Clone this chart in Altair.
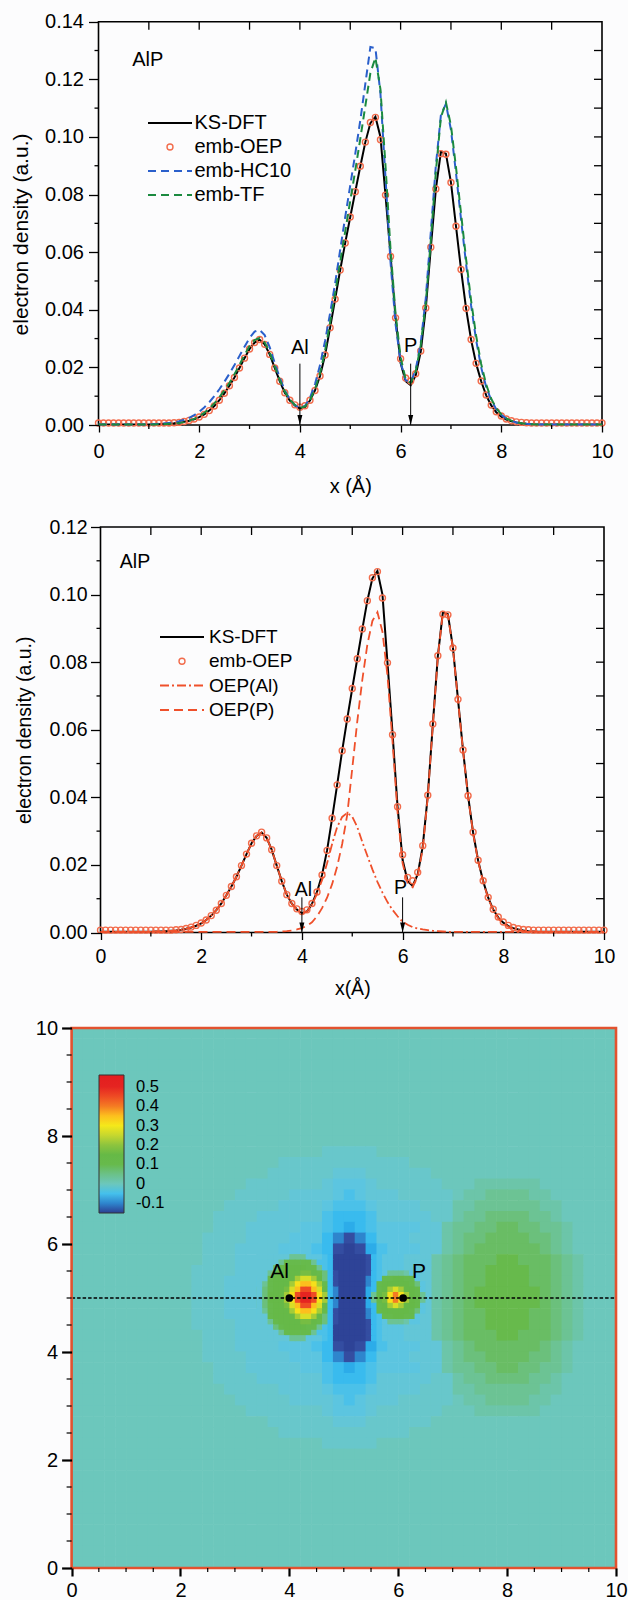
import altair as alt
import pandas as pd

FONT = "Liberation Sans"
VIEW_W, VIEW_H = 628, 1600
BG = "#fcfcfd"

# ---------------- line profiles along the Al-P axis (x in Å, density in a.u.) ----------------
X = [round(0.1 * i, 1) for i in range(101)]

KS_DFT = [
    0.0002, 0.0002, 0.0002, 0.0002, 0.0002, 0.0002, 0.0002, 0.0002, 0.0002, 0.0002,
    0.0002, 0.0003, 0.0003, 0.0004, 0.0005, 0.0006, 0.0008, 0.0011, 0.0015, 0.0020,
    0.0027, 0.0037, 0.0050, 0.0066, 0.0086, 0.0110, 0.0136, 0.0165, 0.0198, 0.0232,
    0.0264, 0.0286, 0.0296, 0.0280, 0.0245, 0.0198, 0.0152, 0.0112, 0.0085, 0.0068,
    0.0057, 0.0062, 0.0085, 0.0120, 0.0170, 0.0243, 0.0338, 0.0437, 0.0538, 0.0632,
    0.0722, 0.0810, 0.0898, 0.0982, 0.1048, 0.1070, 0.1000, 0.0798, 0.0590, 0.0372,
    0.0215, 0.0152, 0.0138, 0.0172, 0.0255, 0.0405, 0.0615, 0.0818, 0.0948, 0.0942,
    0.0842, 0.0690, 0.0540, 0.0405, 0.0296, 0.0213, 0.0152, 0.0103, 0.0068, 0.0044,
    0.0029, 0.0019, 0.0013, 0.0009, 0.0006, 0.0004, 0.0003, 0.0002, 0.0002, 0.0002,
    0.0002, 0.0002, 0.0002, 0.0002, 0.0002, 0.0002, 0.0002, 0.0002, 0.0002, 0.0002,
    0.0002,
]
EMB_OEP = [
    0.0007, 0.0007, 0.0007, 0.0007, 0.0007, 0.0007, 0.0007, 0.0007, 0.0007, 0.0007,
    0.0007, 0.0007, 0.0007, 0.0007, 0.0007, 0.0008, 0.0009, 0.0012, 0.0016, 0.0021,
    0.0028, 0.0037, 0.0050, 0.0066, 0.0086, 0.0110, 0.0136, 0.0165, 0.0198, 0.0232,
    0.0264, 0.0286, 0.0297, 0.0280, 0.0245, 0.0198, 0.0152, 0.0112, 0.0086, 0.0070,
    0.0062, 0.0067, 0.0086, 0.0120, 0.0170, 0.0243, 0.0338, 0.0437, 0.0538, 0.0632,
    0.0722, 0.0810, 0.0898, 0.0982, 0.1050, 0.1068, 0.0990, 0.0798, 0.0585, 0.0372,
    0.0230, 0.0163, 0.0153, 0.0178, 0.0257, 0.0406, 0.0617, 0.0819, 0.0942, 0.0940,
    0.0842, 0.0690, 0.0540, 0.0405, 0.0297, 0.0214, 0.0153, 0.0104, 0.0069, 0.0046,
    0.0031, 0.0021, 0.0015, 0.0011, 0.0009, 0.0008, 0.0007, 0.0007, 0.0007, 0.0007,
    0.0007, 0.0007, 0.0007, 0.0007, 0.0007, 0.0007, 0.0007, 0.0007, 0.0007, 0.0007,
    0.0007,
]
EMB_HC10 = [
    0.0002, 0.0002, 0.0002, 0.0002, 0.0002, 0.0002, 0.0002, 0.0002, 0.0002, 0.0002,
    0.0002, 0.0003, 0.0004, 0.0005, 0.0007, 0.0009, 0.0013, 0.0018, 0.0025, 0.0034,
    0.0046, 0.0061, 0.0079, 0.0100, 0.0124, 0.0150, 0.0178, 0.0208, 0.0240, 0.0272,
    0.0302, 0.0324, 0.0330, 0.0312, 0.0270, 0.0216, 0.0164, 0.0120, 0.0089, 0.0069,
    0.0059, 0.0066, 0.0094, 0.0142, 0.0208, 0.0292, 0.0388, 0.0492, 0.0608, 0.0722,
    0.0832, 0.0942, 0.1058, 0.1185, 0.1312, 0.1308, 0.1150, 0.0860, 0.0565, 0.0350,
    0.0218, 0.0155, 0.0148, 0.0192, 0.0285, 0.0440, 0.0670, 0.0900, 0.1075, 0.1115,
    0.1025, 0.0875, 0.0715, 0.0560, 0.0415, 0.0295, 0.0200, 0.0132, 0.0086, 0.0055,
    0.0035, 0.0022, 0.0014, 0.0009, 0.0006, 0.0004, 0.0003, 0.0002, 0.0002, 0.0002,
    0.0002, 0.0002, 0.0002, 0.0002, 0.0002, 0.0002, 0.0002, 0.0002, 0.0002, 0.0002,
    0.0002,
]
EMB_TF = [
    0.0002, 0.0002, 0.0002, 0.0002, 0.0002, 0.0002, 0.0002, 0.0002, 0.0002, 0.0002,
    0.0002, 0.0002, 0.0003, 0.0003, 0.0004, 0.0005, 0.0007, 0.0010, 0.0015, 0.0021,
    0.0030, 0.0042, 0.0057, 0.0075, 0.0096, 0.0120, 0.0146, 0.0176, 0.0209, 0.0243,
    0.0274, 0.0295, 0.0302, 0.0287, 0.0252, 0.0204, 0.0157, 0.0116, 0.0088, 0.0070,
    0.0059, 0.0064, 0.0087, 0.0125, 0.0180, 0.0258, 0.0356, 0.0458, 0.0566, 0.0672,
    0.0778, 0.0884, 0.0994, 0.1108, 0.1222, 0.1275, 0.1165, 0.0900, 0.0610, 0.0385,
    0.0235, 0.0160, 0.0146, 0.0186, 0.0277, 0.0422, 0.0640, 0.0878, 0.1068, 0.1120,
    0.1040, 0.0895, 0.0735, 0.0577, 0.0432, 0.0310, 0.0212, 0.0140, 0.0091, 0.0058,
    0.0037, 0.0023, 0.0015, 0.0010, 0.0006, 0.0004, 0.0003, 0.0002, 0.0002, 0.0002,
    0.0002, 0.0002, 0.0002, 0.0002, 0.0002, 0.0002, 0.0002, 0.0002, 0.0002, 0.0002,
    0.0002,
]
OEP_AL = [
    0.0002, 0.0002, 0.0002, 0.0002, 0.0002, 0.0002, 0.0002, 0.0002, 0.0002, 0.0002,
    0.0002, 0.0003, 0.0003, 0.0004, 0.0005, 0.0006, 0.0008, 0.0011, 0.0015, 0.0020,
    0.0027, 0.0037, 0.0050, 0.0066, 0.0086, 0.0110, 0.0136, 0.0165, 0.0198, 0.0232,
    0.0264, 0.0286, 0.0296, 0.0280, 0.0245, 0.0198, 0.0152, 0.0112, 0.0085, 0.0068,
    0.0057, 0.0062, 0.0082, 0.0115, 0.0155, 0.0205, 0.0262, 0.0312, 0.0342, 0.0354,
    0.0343, 0.0312, 0.0268, 0.0227, 0.0187, 0.0150, 0.0118, 0.0090, 0.0067, 0.0048,
    0.0032, 0.0023, 0.0016, 0.0012, 0.0009, 0.0007, 0.0005, 0.0004, 0.0003, 0.0002,
    0.0002, 0.0002, 0.0002, 0.0002, 0.0002, 0.0002, 0.0002, 0.0002, 0.0002, 0.0002,
    0.0002, 0.0002, 0.0002, 0.0002, 0.0002, 0.0002, 0.0002, 0.0002, 0.0002, 0.0002,
    0.0002, 0.0002, 0.0002, 0.0002, 0.0002, 0.0002, 0.0002, 0.0002, 0.0002, 0.0002,
    0.0002,
]
OEP_P = [
    0.0002, 0.0002, 0.0002, 0.0002, 0.0002, 0.0002, 0.0002, 0.0002, 0.0002, 0.0002,
    0.0002, 0.0002, 0.0002, 0.0002, 0.0002, 0.0002, 0.0002, 0.0002, 0.0002, 0.0002,
    0.0002, 0.0002, 0.0002, 0.0002, 0.0002, 0.0002, 0.0002, 0.0002, 0.0002, 0.0002,
    0.0002, 0.0002, 0.0002, 0.0002, 0.0002, 0.0002, 0.0003, 0.0004, 0.0006, 0.0009,
    0.0013, 0.0020, 0.0030, 0.0048, 0.0072, 0.0103, 0.0143, 0.0195, 0.0262, 0.0348,
    0.0485, 0.0625, 0.0748, 0.0852, 0.0922, 0.0948, 0.0890, 0.0760, 0.0565, 0.0355,
    0.0205, 0.0146, 0.0134, 0.0167, 0.0248, 0.0402, 0.0613, 0.0816, 0.0946, 0.0940,
    0.0840, 0.0688, 0.0538, 0.0403, 0.0294, 0.0211, 0.0150, 0.0101, 0.0066, 0.0042,
    0.0027, 0.0017, 0.0011, 0.0007, 0.0005, 0.0004, 0.0003, 0.0002, 0.0002, 0.0002,
    0.0002, 0.0002, 0.0002, 0.0002, 0.0002, 0.0002, 0.0002, 0.0002, 0.0002, 0.0002,
    0.0002,
]

# ---------------- ticks ----------------
X_MAJOR = [0, 2, 4, 6, 8, 10]
X_MINOR = [1, 3, 5, 7, 9]
X_INNER = [1, 2, 3, 4, 5, 6, 7, 8, 9]
Y1_MAJOR = [0.0, 0.02, 0.04, 0.06, 0.08, 0.10, 0.12, 0.14]
Y1_MINOR = [0.01, 0.03, 0.05, 0.07, 0.09, 0.11, 0.13]
Y1_INNER = [0.01, 0.02, 0.03, 0.04, 0.05, 0.06, 0.07, 0.08, 0.09, 0.10, 0.11, 0.12, 0.13]
Y2_MAJOR = [0.0, 0.02, 0.04, 0.06, 0.08, 0.10, 0.12]
Y2_MINOR = [0.01, 0.03, 0.05, 0.07, 0.09, 0.11]
Y2_INNER = [0.01, 0.02, 0.03, 0.04, 0.05, 0.06, 0.07, 0.08, 0.09, 0.10, 0.11]
HEAT_MAJOR = [0, 2, 4, 6, 8, 10]
HEAT_MINOR = [0.5, 1, 1.5, 2.5, 3, 3.5, 4.5, 5, 5.5, 6.5, 7, 7.5, 8.5, 9, 9.5]

# ---------------- annotations ----------------
ANN1 = {"label": ["AlP", "Al", "P"], "x": [0.98, 4.0, 6.2], "y": [0.1268, 0.0268, 0.0275]}
ARR1 = {"x": [4.0, 6.2], "y_top": [0.0213, 0.0213], "y_tip": [0.0, 0.0]}
ANN2 = {"label": ["AlP", "Al", "P"], "x": [0.685, 4.03, 5.96], "y": [0.1097, 0.0127, 0.0132]}
ARR2 = {"x": [4.0, 6.0], "y_top": [0.0104, 0.0104], "y_tip": [0.0, 0.0]}

LEG1_LABELS = ["KS-DFT", "emb-OEP", "emb-HC10", "emb-TF"]
LEG2_LABELS = ["KS-DFT", "emb-OEP", "OEP(Al)", "OEP(P)"]

# ---------------- density-difference map ----------------
HEAT_CODES = {
    "q": -0.14, "r": -0.12, "s": -0.10, "t": -0.08, "u": -0.06, "v": -0.045,
    "w": -0.03, "x": -0.02, "y": -0.01, "0": 0.0, "1": 0.02, "2": 0.04,
    "3": 0.06, "4": 0.08, "5": 0.10, "6": 0.13, "7": 0.17, "8": 0.22,
    "9": 0.27, "A": 0.31, "B": 0.35, "C": 0.40, "D": 0.45, "E": 0.50,
}
# coarse grid: 0.2 Å cells over 0..10, first row is y = 10
HEAT_ROWS = [
    "0000000000" "0000000000" "0000000000" "0000000000" "0000000000",
    "0000000000" "0000000000" "0000000000" "0000000000" "0000000000",
    "0000000000" "0000000000" "0000000000" "0000000000" "0000000000",
    "0000000000" "0000000000" "0000000000" "0000000000" "0000000000",
    "0000000000" "0000000000" "0000000000" "0000000000" "0000000000",
    "0000000000" "0000000000" "0000000000" "0000000000" "0000000000",
    "0000000000" "0000000000" "0000000000" "0000000000" "0000000000",
    "0000000000" "0000000000" "0000000000" "0000000000" "0000000000",
    "0000000000" "0000000000" "0000000000" "0000000000" "0000000000",
    "0000000000" "0000000000" "0000000000" "0000000000" "0000000000",
    "0000000000" "0000000000" "0000000000" "0000000000" "0000000000",
    "0000000000" "0000000000" "000yyyyy00" "0000000000" "0000000000",
    "0000000000" "000000000y" "yyyyyyyyyy" "y000000000" "0000000000",
    "0000000000" "00000000yy" "yyyyxxxyyy" "yyy0000000" "0000000000",
    "0000000000" "000000yyyy" "yyyxwwwxyy" "yyyy000111" "1110000000",
    "0000000000" "00000yyyyy" "xxxxwvwxxx" "yyyyy01122" "2211000000",
    "0000000000" "0000yyyyyx" "xxxwvvvwxx" "xxyyy11222" "2221100000",
    "0000000000" "000yyyyxxx" "xxxvuuuvxx" "xxxyy12233" "3322100000",
    "0000000000" "000yyyxxxx" "xwwvutuvww" "wwxx122334" "4332210000",
    "0000000000" "00yyyyxxxx" "wwwusrsuww" "wxxx123344" "4433210000",
    "0000000000" "00yyyxxxxw" "wwvurqrtvw" "wwxx123444" "4443210000",
    "0000000000" "00yyyxxxww" "1wvtqqqtvw" "wwx1234445" "5444321000",
    "0000000000" "0yyyyxxx25" "653tqqqtv1" "1ww1234455" "5544321000",
    "0000000000" "0yyyxxxw56" "8A7uqqqt36" "63w1234455" "5544321000",
    "0000000000" "0yyyxxx168" "DEC5rqqu6B" "86x1234555" "5554321000",
    "0000000000" "0yyyxxx168" "DEC5rqqu6B" "86x1234555" "5554321000",
    "0000000000" "0yyyxxxw56" "8A7uqqqt36" "63w1234455" "5544321000",
    "0000000000" "0yyyyxxx25" "653tqqqtv1" "1ww1234455" "5544321000",
    "0000000000" "00yyyxxxww" "1wvtqqqtvw" "wwx1234445" "5444321000",
    "0000000000" "00yyyxxxxw" "wwvurqrtvw" "wwxx123444" "4443210000",
    "0000000000" "00yyyyxxxx" "wwwusrsuww" "wxxx123344" "4433210000",
    "0000000000" "000yyyxxxx" "xwwvutuvww" "wwxx122334" "4332210000",
    "0000000000" "000yyyyxxx" "xxxvuuuvxx" "xxxyy12233" "3322100000",
    "0000000000" "0000yyyyyx" "xxxwvvvwxx" "xxyyy11222" "2221100000",
    "0000000000" "00000yyyyy" "xxxxwvwxxx" "yyyyy01122" "2211000000",
    "0000000000" "000000yyyy" "yyyxwwwxyy" "yyyy000111" "1110000000",
    "0000000000" "00000000yy" "yyyyxxxyyy" "yyy0000000" "0000000000",
    "0000000000" "000000000y" "yyyyyyyyyy" "y000000000" "0000000000",
    "0000000000" "0000000000" "000yyyyy00" "0000000000" "0000000000",
    "0000000000" "0000000000" "0000000000" "0000000000" "0000000000",
    "0000000000" "0000000000" "0000000000" "0000000000" "0000000000",
    "0000000000" "0000000000" "0000000000" "0000000000" "0000000000",
    "0000000000" "0000000000" "0000000000" "0000000000" "0000000000",
    "0000000000" "0000000000" "0000000000" "0000000000" "0000000000",
    "0000000000" "0000000000" "0000000000" "0000000000" "0000000000",
    "0000000000" "0000000000" "0000000000" "0000000000" "0000000000",
    "0000000000" "0000000000" "0000000000" "0000000000" "0000000000",
    "0000000000" "0000000000" "0000000000" "0000000000" "0000000000",
    "0000000000" "0000000000" "0000000000" "0000000000" "0000000000",
    "0000000000" "0000000000" "0000000000" "0000000000" "0000000000",
]
HEAT_CELL = 0.2
# fine grid: 0.1 Å cells over x 3.4..6.6, y 5.8..4.2 (first row is y = 5.8)
FINE_X0, FINE_Y0, FINE_CELL = 3.4, 5.8, 0.1
FINE_ROWS = [
    "xxxxxx222wwwvuqqqqqqruvwwwwxxxxx",
    "xxxx2555552vvuqqqqqqruvwwwwxxxxx",
    "xxx356666552vuqqqqqqruvwwwwxxxxx",
    "xx25666677653urqqqqqruvw2221wwxx",
    "xx56666899863urqqqqqsuv556655wxx",
    "x256668ABBA85urqqqqqsu56666653wx",
    "x356679BDDB96usqqqqqtu56898665wx",
    "x36668ADEEDA8usqqqqqt267ACA8652x",
    "x36668ADEEDA8usqqqqqt267ACA8652x",
    "x356679BDDB96usqqqqqtu56898665wx",
    "x256668ABBA85urqqqqqsu56666653wx",
    "xx56666899863urqqqqqsuv556655wxx",
    "xx25666677653urqqqqqruvw2221wwxx",
    "xxx356666552vuqqqqqqruvwwwwxxxxx",
    "xxxx2555552vvuqqqqqqruvwwwwxxxxx",
    "xxxxxx222wwwvuqqqqqqruvwwwwxxxxx",
]
COLOR_DOMAIN = [-0.15, -0.11, -0.095, -0.07, -0.05, -0.03, -0.015, 0.0, 0.03, 0.06,
                0.10, 0.15, 0.20, 0.25, 0.30, 0.35, 0.40, 0.45, 0.50, 0.56]
COLOR_RANGE = ["#2c3e92", "#3652a6", "#2a9ee0", "#2db6ef", "#45c0ec", "#5cc5e0", "#66c7d2",
               "#6cc7bc", "#6cc4a0", "#6bc07c", "#67ba4c", "#66b946", "#8dc43e", "#c6d72f",
               "#f5e81a", "#fcbf1e", "#f47b23", "#ee4b24", "#e52421", "#e31e1e"]
LEGEND_VALUES = [-0.1, 0.0, 0.1, 0.2, 0.3, 0.4, 0.5]
HEAT_LABELS = {"label": ["Al", "P"], "x": [3.82, 6.38], "y": [5.48, 5.48]}
HEAT_ATOMS = {"x": [4.0, 6.09], "y": [5.0, 5.0]}
HEAT_BOND = {"a": [0.0], "b": [10.0], "y": [5.0]}

# ---------------- colours ----------------
OEP_C = "#f26c4c"
BLUE = "#2a5fcb"
GREEN = "#1b8a3f"
RED = "#ef502b"
BORDER = "#e2522f"
ARROW = "M-0.5,-1L0.5,-1L0,1Z"

# ---------------- panel placement (pixels) ----------------
P1 = {"x0": 98.5, "x1": 602.0, "yb": 425.0, "yt": 21.7, "ymax": 0.14}
P2 = {"x0": 100.5, "x1": 604.0, "yb": 932.5, "yt": 527.0, "ymax": 0.12}
P3 = {"x0": 71.6, "x1": 616.0, "yb": 1568.0, "yt": 1028.0, "ymax": 10.0}

prof = pd.DataFrame({"x": X, "ks": KS_DFT, "oep": EMB_OEP, "hc10": EMB_HC10,
                     "tf": EMB_TF, "al": OEP_AL, "p": OEP_P})
ONE = pd.DataFrame({"k": [0]})


def sx(p):
    return alt.Scale(domain=[0, 10], range=[p["x0"], p["x1"]], nice=False, zero=False)


def sy(p):
    return alt.Scale(domain=[0, p["ymax"]], range=[p["yb"], p["yt"]], nice=False, zero=False)


def ex(field, p, axis=None):
    return alt.X(field, type="quantitative", scale=sx(p), axis=axis)


def ey(field, p, axis=None):
    return alt.Y(field, type="quantitative", scale=sy(p), axis=axis)


def axis_left(p, values, fmt, fs, tlen, tw, lpad, title=None, tpad=0, ext=56, tfs=None, ty=None):
    kw = dict(orient="left", offset=-p["x0"], values=values, format=fmt, domain=False, grid=False,
              tickColor="black", tickWidth=tw, tickSize=tlen, labelFont=FONT, labelFontSize=fs,
              labelColor="black", labelPadding=lpad, labelOverlap=False, labelFlush=False, zindex=1)
    if title:
        kw.update(title=title, titleFont=FONT, titleFontSize=tfs or fs, titleFontWeight="normal",
                  titleColor="black", titlePadding=tpad, minExtent=ext, maxExtent=ext)
        if ty is not None:
            kw["titleY"] = ty
    else:
        kw["title"] = None
    return alt.Axis(**kw)


def axis_bottom(p, values, fs, tlen, tw, lpad, title=None, tpad=0):
    kw = dict(orient="bottom", offset=-(VIEW_H - p["yb"]), values=values, format="d", domain=False,
              grid=False, tickColor="black", tickWidth=tw, tickSize=tlen, labelFont=FONT,
              labelFontSize=fs, labelColor="black", labelPadding=lpad, labelOverlap=False,
              labelFlush=False, zindex=1)
    if title:
        kw.update(title=title, titleFont=FONT, titleFontSize=fs, titleFontWeight="normal",
                  titleColor="black", titlePadding=tpad)
    else:
        kw["title"] = None
    return alt.Axis(**kw)


def frame(p, color, width):
    df = pd.DataFrame({"a": [0.0], "b": [10.0], "c": [0.0], "d": [p["ymax"]]})
    return alt.Chart(df).mark_rect(fillOpacity=0, stroke=color, strokeWidth=width).encode(
        x=ex("a", p), x2=alt.X2("b"), y=ey("c", p), y2=alt.Y2("d"))


def hticks(p, vals, edge_x, length, width):
    df = pd.DataFrame({"t": vals, "e": [edge_x] * len(vals)})
    return alt.Chart(df).mark_rule(color="black", strokeWidth=width, x2Offset=-length).encode(
        y=ey("t", p), x=ex("e", p), x2=alt.X2("e"))


def vticks(p, vals, edge_y, length, width):
    df = pd.DataFrame({"t": vals, "e": [edge_y] * len(vals)})
    return alt.Chart(df).mark_rule(color="black", strokeWidth=width, y2Offset=length).encode(
        x=ex("t", p), y=ey("e", p), y2=alt.Y2("e"))


def pline(p, col, color, width, dash=None, xaxis=None, yaxis=None):
    kw = dict(color=color, strokeWidth=width)
    if dash:
        kw["strokeDash"] = dash
    return alt.Chart(prof).mark_line(**kw).encode(x=ex("x", p, xaxis), y=ey(col, p, yaxis))


def circles(p):
    return alt.Chart(prof).mark_point(shape="circle", filled=False, size=36, color=OEP_C,
                                      strokeWidth=1.4, opacity=1).encode(
        x=ex("x", p), y=ey("oep", p))


def annotations(p, ann, arr, fs):
    a = pd.DataFrame(ann)
    r = pd.DataFrame(arr)
    return [
        alt.Chart(r).mark_rule(color="black", strokeWidth=1).encode(
            x=ex("x", p), y=ey("y_top", p), y2=alt.Y2("y_tip")),
        alt.Chart(r).mark_point(shape=ARROW, filled=True, color="black", size=100, yOffset=-5,
                                opacity=1).encode(x=ex("x", p), y=ey("y_tip", p)),
        alt.Chart(a).mark_text(font=FONT, fontSize=fs, color="black", align="center",
                               baseline="middle").encode(
            x=ex("x", p), y=ey("y", p), text="label:N"),
    ]


def legend(labels, styles, y0, dy, xl0, xl1, xsym, xtext, fs):
    out = []
    for k, (lab, st) in enumerate(zip(labels, styles)):
        yy = y0 + k * dy
        if st[0] == "circle":
            out.append(alt.Chart(ONE).mark_point(shape="circle", filled=False, size=36, color=st[1],
                                                 strokeWidth=1.4, opacity=1).encode(
                x=alt.value(xsym), y=alt.value(yy)))
        else:
            kw = dict(color=st[1], strokeWidth=2)
            if st[2]:
                kw["strokeDash"] = st[2]
            out.append(alt.Chart(ONE).mark_rule(**kw).encode(
                x=alt.value(xl0), x2=alt.value(xl1), y=alt.value(yy)))
        out.append(alt.Chart(ONE).mark_text(text=lab, font=FONT, fontSize=fs, color="black",
                                            align="left", baseline="middle").encode(
            x=alt.value(xtext), y=alt.value(yy)))
    return out


layers = []

# ---------- panel 1 ----------
layers += [
    frame(P1, "black", 1.6),
    pline(P1, "ks", "black", 2.0,
          xaxis=axis_bottom(P1, X_MAJOR, 20, 7, 1.3, 9.5, title="x (Å)", tpad=15),
          yaxis=axis_left(P1, Y1_MAJOR, ".2f", 20, 10, 1.3, 5, title="electron density (a.u.)",
                          tpad=11.5, tfs=21, ty=234)),
    circles(P1),
    pline(P1, "hc10", BLUE, 2.0, dash=[8, 5]),
    pline(P1, "tf", GREEN, 2.0, dash=[8, 5]),
    hticks(P1, Y1_MINOR, 0, 4, 1.3),
    vticks(P1, X_MINOR, 0, 4, 1.3),
    vticks(P1, X_INNER, P1["ymax"], 8, 1.3),
    hticks(P1, Y1_INNER, 10, 8, 1.3),
]
layers += annotations(P1, ANN1, ARR1, 20)
layers += legend(LEG1_LABELS,
                 [("line", "black", None), ("circle", OEP_C, None),
                  ("line", BLUE, [8, 5]), ("line", GREEN, [8, 5])],
                 123, 24, 148, 192, 170, 194.5, 20)

# ---------- panel 2 ----------
layers += [
    frame(P2, "black", 1.6),
    pline(P2, "ks", "black", 2.0,
          xaxis=axis_bottom(P2, X_MAJOR, 19.5, 7, 1.3, 8, title="x(Å)", tpad=13),
          yaxis=axis_left(P2, Y2_MAJOR, ".2f", 19.5, 10, 1.3, 3.5, title="electron density (a.u.)",
                          tpad=10.5)),
    circles(P2),
    pline(P2, "al", RED, 1.8, dash=[9, 3, 2, 3]),
    pline(P2, "p", RED, 1.8, dash=[9, 5]),
    hticks(P2, Y2_MINOR, 0, 4, 1.3),
    vticks(P2, X_MINOR, 0, 4, 1.3),
    vticks(P2, X_INNER, P2["ymax"], 8, 1.3),
    hticks(P2, Y2_INNER, 10, 8, 1.3),
]
layers += annotations(P2, ANN2, ARR2, 19.5)
layers += legend(LEG2_LABELS,
                 [("line", "black", None), ("circle", OEP_C, None),
                  ("line", RED, [9, 3, 2, 3]), ("line", RED, [9, 5])],
                 637, 24.3, 160, 204, 182, 209, 19)

# ---------- panel 3: density difference map ----------
cells = []
for i, row in enumerate(HEAT_ROWS):
    row = (row + "0" * 50)[:50]
    for j, ch in enumerate(row):
        cells.append({"x0": j * HEAT_CELL, "x1": (j + 1) * HEAT_CELL,
                      "y1": 10 - i * HEAT_CELL, "y0": 10 - (i + 1) * HEAT_CELL,
                      "v": HEAT_CODES.get(ch, 0.0)})
for i, row in enumerate(FINE_ROWS):
    for j, ch in enumerate(row):
        cells.append({"x0": FINE_X0 + j * FINE_CELL, "x1": FINE_X0 + (j + 1) * FINE_CELL,
                      "y1": FINE_Y0 - i * FINE_CELL, "y0": FINE_Y0 - (i + 1) * FINE_CELL,
                      "v": HEAT_CODES.get(ch, 0.0)})
heat_df = pd.DataFrame(cells)

heat = alt.Chart(heat_df).mark_rect(x2Offset=0.6, y2Offset=-0.6).encode(
    x=ex("x0", P3, axis_bottom(P3, HEAT_MAJOR, 20, 8, 2.2, 4)),
    x2=alt.X2("x1"),
    y=ey("y0", P3, axis_left(P3, HEAT_MAJOR, "d", 20, 10, 2.2, 4)),
    y2=alt.Y2("y1"),
    color=alt.Color("v:Q",
                    scale=alt.Scale(domain=COLOR_DOMAIN, range=COLOR_RANGE, interpolate="rgb"),
                    legend=alt.Legend(type="gradient", orient="none", legendX=99, legendY=1075,
                                      direction="vertical",
                                      gradientLength=138, gradientThickness=25, title=None,
                                      values=LEGEND_VALUES,
                                      labelExpr="datum.value == 0 ? '0' : replace(format(datum.value, '.1f'), '\u2212', '-')",
                                      labelFont=FONT, labelFontSize=16.5, labelColor="black",
                                      labelOffset=12, labelOverlap=False,
                                      gradientStrokeColor="#333333", gradientStrokeWidth=1,
                                      padding=0)),
)
layers += [
    heat,
    alt.Chart(pd.DataFrame(HEAT_BOND)).mark_rule(color="black", strokeWidth=1.3,
                                                 strokeDash=[3.5, 2]).encode(
        x=ex("a", P3), x2=alt.X2("b"), y=ey("y", P3)),
    alt.Chart(pd.DataFrame(HEAT_ATOMS)).mark_point(shape="circle", filled=True, color="black",
                                                   size=60, opacity=1).encode(
        x=ex("x", P3), y=ey("y", P3)),
    alt.Chart(pd.DataFrame(HEAT_LABELS)).mark_text(font=FONT, fontSize=21, color="black",
                                                   align="center", baseline="middle").encode(
        x=ex("x", P3), y=ey("y", P3), text="label:N"),
    frame(P3, BORDER, 2.6),
    hticks(P3, HEAT_MINOR, 0, 5, 1.2),
    vticks(P3, HEAT_MINOR, 0, 4, 1.2),
]

chart = alt.layer(*layers).resolve_scale(
    x="independent", y="independent", color="independent"
).properties(
    width=VIEW_W, height=VIEW_H, autosize=alt.AutoSizeParams(type="none"), padding=0,
    background=BG,
).configure_view(strokeWidth=0)

chart.save("out.html", embed_options={"renderer": "svg", "actions": False})
